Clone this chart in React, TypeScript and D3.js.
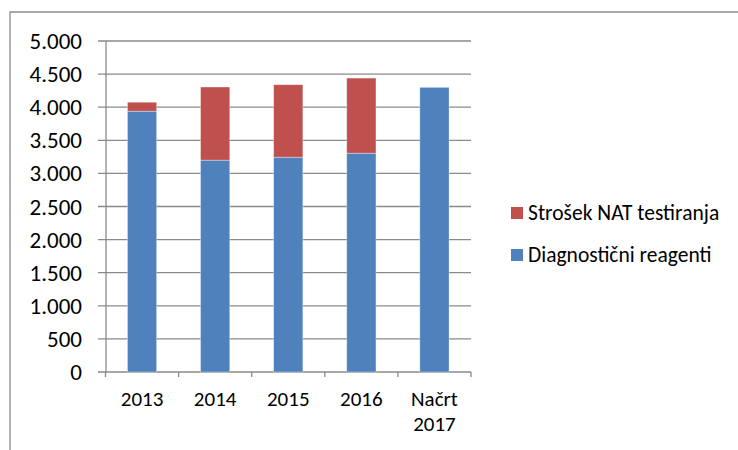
import React from "react";
import * as d3 from "d3";

const categories = ["2013", "2014", "2015", "2016", "Načrt\n2017"];
const reagenti = [3940, 3200, 3245, 3305, 4300];
const natTest = [135, 1105, 1095, 1135, 0];
const yTicks = [0, 500, 1000, 1500, 2000, 2500, 3000, 3500, 4000, 4500, 5000];
const seriesNames = ["Strošek NAT testiranja", "Diagnostični reagenti"];
const colors = ["#C0504D", "#4F81BD"];

const W = 738, H = 450;
const font = "Carlito, Calibri, Lato, 'Open Sans', sans-serif";

export default function App() {
  const x = d3.scaleBand<string>().domain(categories).range([105.5, 471]).paddingInner(0).paddingOuter(0);
  const y = d3.scaleLinear().domain([0, 5000]).range([372, 41]);
  const bw = x.bandwidth() * 0.4;
  const fmt = (v: number) => (v === 0 ? "0" : d3.format(",")(v).replace(/,/g, "."));
  const data = categories.map((c, i) => ({ c, b: reagenti[i], r: natTest[i] }));
  const stack = d3.stack<any>().keys(["b", "r"])(data as any);
  const grid = "#8a8a8a";
  return (
    <svg width={W} height={H} style={{ position: "absolute", left: 0, top: 0, background: "#fff" }}>
      <rect x={0} y={0} width={W} height={H} fill="#fff" />
      <path d={`M10,${H} V12 H${W}`} fill="none" stroke="#8c8c8c" strokeWidth={1.3} />
      {yTicks.map((t) => (
        <g key={t}>
          <line x1={98} x2={471} y1={y(t)} y2={y(t)} stroke={grid} strokeWidth={1.3} />
          <text x={82} y={y(t)} dy="0.35em" textAnchor="end" fontFamily={font} fontSize={23} fill="#000">
            {fmt(t)}
          </text>
        </g>
      ))}
      <line x1={106} x2={106} y1={y(5000)} y2={y(0)} stroke={grid} strokeWidth={1.3} />
      {stack.map((s, si) => (
        <g key={si} fill={si === 0 ? colors[1] : colors[0]}>
          {s.map((d: any, i: number) =>
            d[1] - d[0] > 0 ? (
              <rect
                key={i}
                x={(x(categories[i]) as number) + (x.bandwidth() - bw) / 2}
                y={y(d[1])}
                width={bw}
                height={y(d[0]) - y(d[1])}
                stroke="rgba(255,255,255,0.45)"
                strokeWidth={0.8}
              />
            ) : null
          )}
        </g>
      ))}
      {[...categories.map((c) => x(c) as number), 471].map((v, i) => (
        <line key={i} x1={v} x2={v} y1={372} y2={377} stroke={grid} strokeWidth={1.3} />
      ))}
      {categories.map((c) => {
        const lines = c.split("\n");
        return (
          <text key={c} x={(x(c) as number) + x.bandwidth() / 2} y={406} textAnchor="middle" fontFamily={font} fontSize={21} fill="#000">
            {lines.map((l, j) => (
              <tspan key={j} x={(x(c) as number) + x.bandwidth() / 2} dy={j === 0 ? 0 : 25}>
                {l}
              </tspan>
            ))}
          </text>
        );
      })}
      {seriesNames.map((n, i) => (
        <g key={n} transform={`translate(511,${207 + i * 42})`}>
          <rect x={0} y={0} width={12} height={12} fill={colors[i]} />
          <text x={17} y={13} fontFamily={font} fontSize={21.5} fill="#000">
            {n}
          </text>
        </g>
      ))}
    </svg>
  );
}
